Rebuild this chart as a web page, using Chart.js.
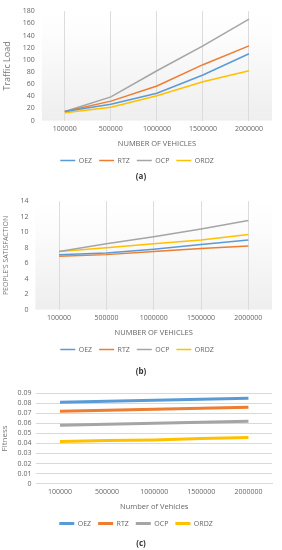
<!DOCTYPE html>
<html><head><meta charset="utf-8">
<script src="https://cdn.jsdelivr.net/npm/chart.js@4.4.0/dist/chart.umd.min.js"></script>
<style>
html,body{margin:0;padding:0;background:#fff;width:282px;height:550px;overflow:hidden;position:relative}
.c{position:absolute;left:0;width:282px}
.cap{position:absolute;left:0;width:282px;text-align:center;font:bold 8px "Open Sans",sans-serif;color:#333}
</style></head><body>
<div class="c" style="top:0;height:174px"><canvas id="ca"></canvas></div>
<div class="cap" style="top:170px">(a)</div>
<div class="c" style="top:190px;height:173px"><canvas id="cb"></canvas></div>
<div class="cap" style="top:365px">(b)</div>
<div class="c" style="top:384px;height:153px"><canvas id="cc"></canvas></div>
<div class="cap" style="top:537px">(c)</div>
<script>
const categories = ["100000","500000","1000000","1500000","2000000"];
const seriesNames = ["OEZ","RTZ","OCP","ORDZ"];
const colors = ["#5B9BD5","#ED7D31","#A5A5A5","#FFC000"];

const trafficOEZ  = [15, 27, 45, 75, 110];
const trafficRTZ  = [15, 32, 57, 92, 123];
const trafficOCP  = [15, 39, 82, 123, 167];
const trafficORDZ = [13, 22, 41, 64, 82];

const satOEZ  = [7.1, 7.3, 7.8, 8.4, 9.0];
const satRTZ  = [6.9, 7.1, 7.5, 7.9, 8.2];
const satOCP  = [7.5, 8.5, 9.4, 10.4, 11.5];
const satORDZ = [7.5, 8.0, 8.5, 9.0, 9.7];

const fitOEZ  = [0.081, 0.082, 0.083, 0.084, 0.085];
const fitRTZ  = [0.072, 0.073, 0.074, 0.075, 0.076];
const fitOCP  = [0.058, 0.059, 0.060, 0.061, 0.062];
const fitORDZ = [0.042, 0.043, 0.0435, 0.045, 0.046];

const FONT = "'Open Sans', sans-serif";
const TXT = "#666";

const bgPlugin = {
  id:'bgGrad',
  beforeDraw(chart, args, opts){
    if(!opts || !opts.on) return;
    const {ctx, chartArea:a} = chart;
    const g = ctx.createLinearGradient(0, a.top, 0, a.bottom);
    g.addColorStop(0, 'rgba(255,255,255,1)');
    g.addColorStop(0.25, 'rgba(252,252,252,1)');
    g.addColorStop(1, 'rgba(238,238,238,1)');
    ctx.save(); ctx.fillStyle = g; ctx.fillRect(a.left, a.top, a.right-a.left, a.bottom-a.top); ctx.restore();
  }
};

function make(id, data, yopts, ytitle, ytitleSize, xtitle, lw, hgrid, grad, leftPad){
  const ds = data.map((d,i)=>({label:seriesNames[i], data:d, borderColor:colors[i], backgroundColor:colors[i],
    borderWidth:lw, pointRadius:0, tension:0, fill:false}));
  return new Chart(document.getElementById(id), {
    type:'line',
    data:{labels:categories, datasets:ds},
    plugins:[bgPlugin],
    options:{
      responsive:true, maintainAspectRatio:false, animation:false,
      layout:{padding:{top:4,right:10,left:leftPad,bottom:0}},
      plugins:{
        bgGrad:{on:grad},
        tooltip:{enabled:false},
        legend:{position:'bottom', labels:{usePointStyle:true, pointStyle:'line', pointStyleWidth:15, boxHeight:7, padding:7, color:TXT, font:{family:FONT,size:7}}}
      },
      scales:{
        x:{offset:true, grid:{display:!hgrid, offset:false, color:'#dcdcdc', drawTicks:false}, border:{display:hgrid, color:'#d9d9d9'},
           ticks:{color:TXT, font:{family:FONT,size:7}, padding:4, maxRotation:0, autoSkip:false},
           title:{display:true, text:xtitle, color:TXT, font:{family:FONT,size:7.5}, padding:{top:2,bottom:2}}},
        y:Object.assign({grid:{display:hgrid, color:'#d9d9d9', drawTicks:false}, border:{display:false},
           title:{display:true, text:ytitle, color:'#777', font:{family:FONT,size:ytitleSize}, padding:{top:0,bottom:3}}}, yopts)
      }
    }
  });
}

const yt = {color:TXT,font:{family:FONT,size:7},padding:7,autoSkip:false};
make('ca', [trafficOEZ,trafficRTZ,trafficOCP,trafficORDZ],
  {min:0,max:180,ticks:Object.assign({stepSize:20},yt)}, 'Traffic Load', 9, 'NUMBER OF VEHICLES', 1.5, false, true, 2);
make('cb', [satOEZ,satRTZ,satOCP,satORDZ],
  {min:0,max:14,ticks:Object.assign({stepSize:2},yt)}, "PEOPLE'S SATISFACTION", 7, 'NUMBER OF VEHICLES', 1.5, false, true, 2);
make('cc', [fitOEZ,fitRTZ,fitOCP,fitORDZ],
  {min:0,max:0.09,ticks:Object.assign({stepSize:0.01,callback:v=>+v.toFixed(2)},yt,{padding:5})}, 'Fitness', 8, 'Number of Vehicles', 3, true, false, 0);
</script>
</body></html>
